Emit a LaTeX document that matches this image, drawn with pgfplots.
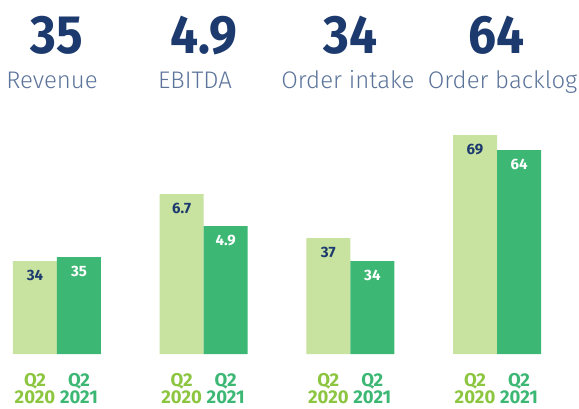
\documentclass[border=0pt]{standalone}
\usepackage{pgfplots}
\pgfplotsset{compat=1.18}
\usepackage{pgfplotstable}
\usepackage{fontspec}
\setmainfont{Fira Sans}
\newfontfamily\firalight{Fira Sans Light}
\newfontfamily\firabig{Fira Sans}[FakeStretch=0.92]

\definecolor{navy}{RGB}{29,58,110}
\definecolor{labelblue}{RGB}{92,116,154}
\definecolor{lightbar}{RGB}{200,226,160}
\definecolor{darkbar}{RGB}{60,184,116}
\definecolor{lighttext}{RGB}{140,197,64}
\definecolor{darktext}{RGB}{60,184,116}

% bar heights as drawn (px), value printed in the bar
\pgfplotstableread{
grp h v
0 93 34
1 160 6.7
2 116 37
3 219 69
}\qtwenty
\pgfplotstableread{
grp h v
0 97 35
1 128 4.9
2 93 34
3 204 64
}\qtwentyone

\begin{document}
\begin{tikzpicture}
\begin{axis}[
  width=579pt, height=408pt, scale only axis,
  xmin=-0.3886, xmax=3.559, ymin=-54, ymax=354,
  ybar=0pt, bar width=44pt,
  axis line style={draw=none}, tick style={draw=none},
  ytick=\empty,
  xtick={-0.15,0.15,0.85,1.15,1.85,2.15,2.85,3.15},
  xticklabels={
    {\textcolor{lighttext}{Q2}\\[-3pt]\textcolor{lighttext}{2020}},
    {\textcolor{darktext}{Q2}\\[-3pt]\textcolor{darktext}{2021}},
    {\textcolor{lighttext}{Q2}\\[-3pt]\textcolor{lighttext}{2020}},
    {\textcolor{darktext}{Q2}\\[-3pt]\textcolor{darktext}{2021}},
    {\textcolor{lighttext}{Q2}\\[-3pt]\textcolor{lighttext}{2020}},
    {\textcolor{darktext}{Q2}\\[-3pt]\textcolor{darktext}{2021}},
    {\textcolor{lighttext}{Q2}\\[-3pt]\textcolor{lighttext}{2020}},
    {\textcolor{darktext}{Q2}\\[-3pt]\textcolor{darktext}{2021}}},
  xticklabel style={align=center, anchor=north, inner sep=0pt, yshift=39pt,
    font=\bfseries\fontsize{18.5}{19.7}\selectfont},
  clip=false,
  nodes near coords, point meta=explicit symbolic,
  nodes near coords style={anchor=base, yshift=-19pt,
    font=\bfseries\fontsize{15}{16}\selectfont},
]
\addplot[fill=lightbar, draw=none, nodes near coords style={text=navy}]
  table[x=grp, y=h, meta=v] {\qtwenty};
\addplot[fill=darkbar, draw=none, nodes near coords style={text=white}]
  table[x=grp, y=h, meta=v] {\qtwentyone};

\begin{scope}[every node/.style={anchor=base, inner sep=0pt}]
\node[navy, font=\firabig\bfseries\fontsize{54}{54}\selectfont] at (axis cs:0,301) {35};
\node[navy, font=\firabig\bfseries\fontsize{54}{54}\selectfont] at (axis cs:1,301) {4.9};
\node[navy, font=\firabig\bfseries\fontsize{54}{54}\selectfont] at (axis cs:2,301) {34};
\node[navy, font=\firabig\bfseries\fontsize{54}{54}\selectfont] at (axis cs:3,301) {64};
\node[labelblue, font=\firalight\fontsize{24}{24}\selectfont] at (axis cs:-0.034,266) {Revenue};
\node[labelblue, font=\firalight\fontsize{24}{24}\selectfont] at (axis cs:0.941,266) {EBITDA};
\node[labelblue, font=\firalight\fontsize{24}{24}\selectfont] at (axis cs:1.984,266) {Order intake};
\node[labelblue, font=\firalight\fontsize{24}{24}\selectfont] at (axis cs:3.038,266) {Order backlog};
\end{scope}
\end{axis}
\pgfresetboundingbox
\path[use as bounding box] (current axis.south west) rectangle (current axis.north east);
\end{tikzpicture}
\end{document}
